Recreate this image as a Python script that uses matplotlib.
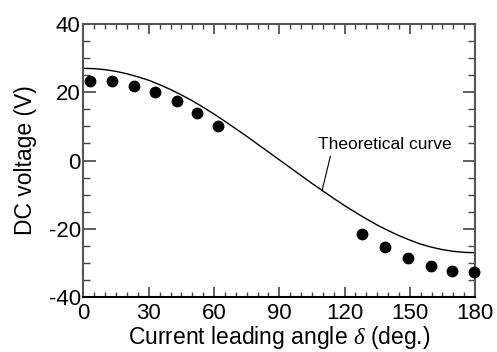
import matplotlib.pyplot as plt
from matplotlib.ticker import MultipleLocator

plt.rcParams['font.family'] = ['Liberation Sans', 'DejaVu Sans']
plt.rcParams['mathtext.fontset'] = 'custom'
plt.rcParams['mathtext.it'] = 'Liberation Serif:italic'
plt.rcParams['axes.unicode_minus'] = False

# measured points
delta_meas = [3, 13, 23, 33, 43, 52, 62, 128, 138.5, 149, 159.5, 169.5, 179.5]
vdc_meas = [23.3, 23.3, 21.9, 20.0, 17.4, 14.0, 10.2, -21.4, -25.4, -28.5, -30.9, -32.3, -32.6]

# theoretical curve
delta_th = [0, 5, 10, 15, 20, 25, 30, 35, 40, 45, 50, 55, 60, 65, 70, 75, 80, 85, 90,
            95, 100, 105, 110, 115, 120, 125, 130, 135, 140, 145, 150, 155, 160, 165,
            170, 175, 180]
vdc_th = [27.0, 26.9, 26.6, 26.1, 25.4, 24.5, 23.5, 22.2, 20.8, 19.2, 17.5, 15.6, 13.6,
          11.5, 9.3, 7.1, 4.8, 2.5, 0.2, -2.1, -4.4, -6.7, -8.9, -11.1, -13.2, -15.2,
          -17.1, -18.9, -20.5, -22.0, -23.3, -24.5, -25.4, -26.1, -26.6, -26.9, -27.0]

fig = plt.figure(figsize=(4.97, 3.52), dpi=100)
ax = fig.add_axes([0.168, 0.156, 0.788, 0.776])

ax.plot(delta_th, vdc_th, color='black', lw=1.0)
ax.plot(delta_meas, vdc_meas, 'o', color='black', ms=7.5, clip_on=False, zorder=3)

# label + leader line
ax.annotate('Theoretical curve', xy=(109.7, -8.7), xytext=(107.8, 2.5),
            fontsize=12.5, ha='left', va='bottom',
            arrowprops=dict(arrowstyle='-', color='black', lw=0.8,
                            shrinkA=1, shrinkB=0, relpos=(0.1, 0)))

ax.set_xlim(0, 180)
ax.set_ylim(-40, 40)
ax.xaxis.set_major_locator(MultipleLocator(30))
ax.xaxis.set_minor_locator(MultipleLocator(5))
ax.yaxis.set_major_locator(MultipleLocator(20))
ax.yaxis.set_minor_locator(MultipleLocator(5))

ax.tick_params(axis='both', which='both', direction='in', top=True, right=True,
               color='#444444', labelsize=16)
ax.tick_params(axis='x', which='major', length=7, width=1.2, pad=4)
ax.tick_params(axis='x', which='minor', length=3.5, width=1)
ax.tick_params(axis='y', which='major', length=9, width=1.2, pad=2)
ax.tick_params(axis='y', which='minor', length=5, width=1)

for s in ax.spines.values():
    s.set_color('#555555')
    s.set_linewidth(1.5)
ax.spines['bottom'].set_color('black')

ax.set_xlabel(r'Current leading angle $\delta$ (deg.)', fontsize=16.5, labelpad=0)
ax.set_ylabel('DC voltage (V)', fontsize=16.5, labelpad=8)

fig.savefig('out.png', dpi=100)
